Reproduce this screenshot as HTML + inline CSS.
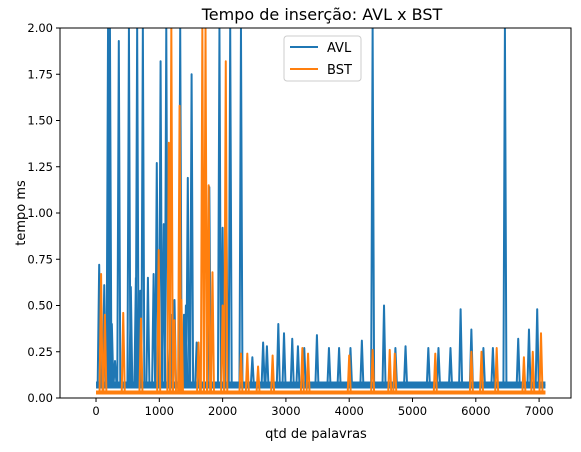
<!DOCTYPE html>
<html><head><meta charset="utf-8"><style>
body{margin:0;background:#fff}
svg text{font-family:"DejaVu Sans","Liberation Sans",sans-serif;fill:#000}
</style></head><body>
<svg id="c" width="581" height="447" viewBox="0 0 581 447">
<defs><clipPath id="pa"><rect x="60" y="28" width="511" height="370"/></clipPath></defs>
<rect x="0" y="0" width="581" height="447" fill="#fff"/>
<text x="322" y="20" font-size="16" text-anchor="middle">Tempo de inserção: AVL x BST</text>
<g id="plot" clip-path="url(#pa)"></g>
<g id="axes"></g>
<rect x="60" y="28" width="511" height="370" fill="none" stroke="#000" stroke-width="1"/>
<text x="316" y="438" font-size="13" text-anchor="middle">qtd de palavras</text>
<text x="0" y="0" font-size="13" text-anchor="middle" transform="translate(25,213) rotate(-90)">tempo ms</text>
<g>
<rect x="284" y="36" width="77" height="45" rx="3" fill="#fff" fill-opacity="0.8" stroke="#ccc"/>
<g><line x1="290" y1="47" x2="318" y2="47" stroke="#1f77b4" stroke-width="2"/><text x="327" y="52" font-size="13">AVL</text></g>
<g><line x1="290" y1="69" x2="318" y2="69" stroke="#ff7f0e" stroke-width="2"/><text x="327" y="74" font-size="13">BST</text></g>
</g>
</svg>
<script>
const xTicks=[0,1000,2000,3000,4000,5000,6000,7000];
const yTicks=[0,0.25,0.5,0.75,1.0,1.25,1.5,1.75,2.0];
const nWords=7100;
const avlBase=0.07;
const bstBase=0.03;
const avlSpikeX=[50,130,190,220,250,300,360,520,550,630,650,700,740,820,910,960,1020,1070,1110,1180,1240,1330,1390,1420,1450,1510,1590,1790,1950,2000,2060,2120,2290,2470,2640,2700,2880,2970,3100,3190,3290,3490,3680,3840,4020,4200,4370,4550,4730,4890,5250,5410,5600,5760,5930,6120,6270,6460,6670,6840,6970];
const avlSpikeY=[0.72,0.61,2.0,2.0,0.40,0.2,1.93,2.0,0.6,0.65,2.0,0.58,2.0,0.65,0.67,1.27,1.82,0.94,2.0,0.45,0.53,2.0,0.45,0.5,1.19,1.75,0.3,1.14,2.0,0.92,0.97,2.0,2.0,0.22,0.3,0.28,0.4,0.35,0.32,0.28,0.27,0.34,0.27,0.27,0.27,0.31,2.0,0.5,0.27,0.28,0.27,0.27,0.27,0.48,0.37,0.27,0.27,2.0,0.32,0.37,0.48];
const bstSpikeX=[80,140,430,710,990,1150,1190,1240,1320,1350,1620,1680,1730,1780,1840,2000,2050,2290,2390,2560,2790,3260,3350,4000,4370,4640,4720,5360,5930,6090,6330,6760,6900,7030];
const bstSpikeY=[0.67,0.45,0.46,0.43,0.8,1.38,2.0,0.42,1.58,0.53,0.3,2.0,2.0,1.15,0.68,0.5,1.82,0.24,0.24,0.17,0.23,0.27,0.24,0.23,0.26,0.26,0.24,0.24,0.25,0.25,0.27,0.22,0.25,0.35];
const X0=60,X1=571,Y0=28,Y1=398,xmin=-569,xmax=7504,ymin=0,ymax=2;
const sx=v=>X0+(v-xmin)/(xmax-xmin)*(X1-X0);
const sy=v=>Y1-(v-ymin)/(ymax-ymin)*(Y1-Y0);
const NS='http://www.w3.org/2000/svg';
const plot=document.getElementById('plot'),axes=document.getElementById('axes');
function series(xs,ys,base,color,bw,name){
  const band=document.createElementNS(NS,'line');
  band.setAttribute('x1',sx(0));band.setAttribute('x2',sx(nWords));
  band.setAttribute('y1',sy(base));band.setAttribute('y2',sy(base));
  band.setAttribute('stroke',color);band.setAttribute('stroke-width',bw);
  
  
  plot.appendChild(band);
  let d='M'+sx(0)+','+sy(base);
  xs.forEach((x,i)=>{d+=' L'+(sx(x)-1.5)+','+sy(base)+' L'+sx(x)+','+sy(ys[i])+' L'+(sx(x)+1.5)+','+sy(base);});
  d+=' L'+sx(nWords)+','+sy(base);
  const p=document.createElementNS(NS,'path');
  p.setAttribute('d',d);p.setAttribute('fill','none');p.setAttribute('stroke',color);p.setAttribute('stroke-width','2');p.setAttribute('stroke-linejoin','round');
  
  
  plot.appendChild(p);
}
series(avlSpikeX,avlSpikeY,avlBase,'#1f77b4',7,'avl');
series(bstSpikeX,bstSpikeY,bstBase,'#ff7f0e',4,'bst');
xTicks.forEach(t=>{
  const l=document.createElementNS(NS,'line');
  l.setAttribute('x1',sx(t));l.setAttribute('x2',sx(t));l.setAttribute('y1',Y1);l.setAttribute('y2',Y1+4);l.setAttribute('stroke','#000');
  
  
  axes.appendChild(l);
  const tx=document.createElementNS(NS,'text');
  tx.setAttribute('x',sx(t));tx.setAttribute('y',Y1+17);tx.setAttribute('font-size','11.5');tx.setAttribute('text-anchor','middle');tx.textContent=t;
  
  
  axes.appendChild(tx);
});
yTicks.forEach(t=>{
  const l=document.createElementNS(NS,'line');
  l.setAttribute('x1',X0-4);l.setAttribute('x2',X0);l.setAttribute('y1',sy(t));l.setAttribute('y2',sy(t));l.setAttribute('stroke','#000');
  
  
  axes.appendChild(l);
  const tx=document.createElementNS(NS,'text');
  tx.setAttribute('x',X0-7);tx.setAttribute('y',sy(t)+4);tx.setAttribute('font-size','11.5');tx.setAttribute('text-anchor','end');tx.textContent=t.toFixed(2);
  
  
  axes.appendChild(tx);
});
</script>
</body></html>
